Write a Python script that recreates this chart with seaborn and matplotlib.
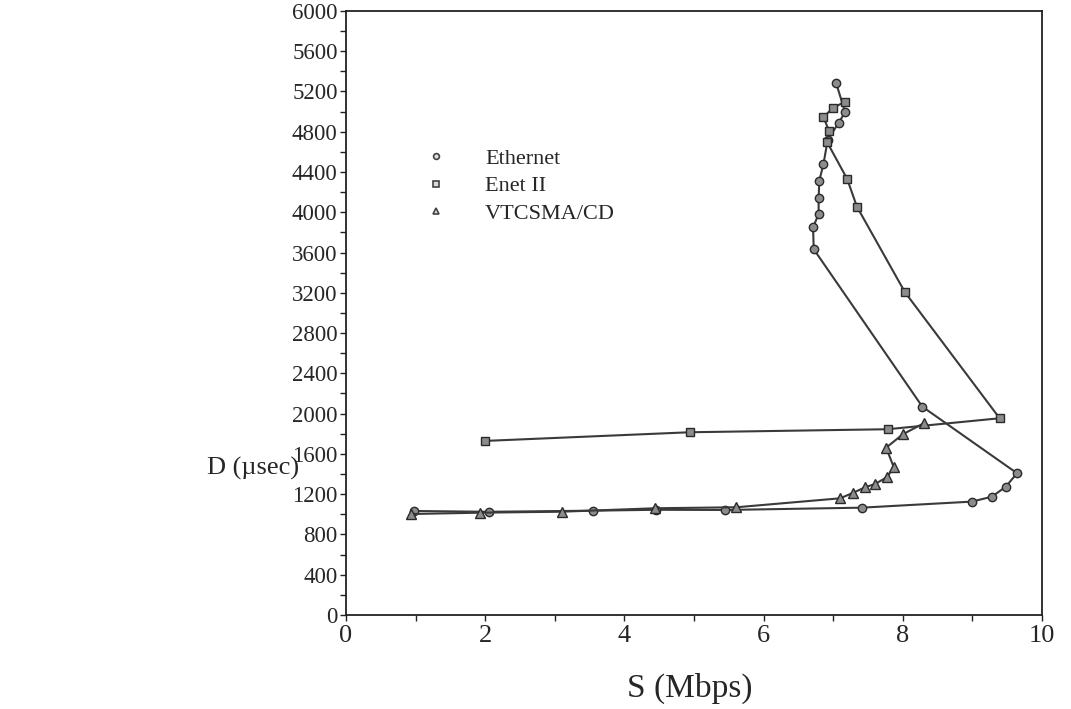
import matplotlib
matplotlib.use("Agg")
import matplotlib.pyplot as plt
import seaborn as sns
import pandas as pd
from matplotlib.lines import Line2D
from matplotlib.ticker import MultipleLocator

# ---- data ----
eth_s = [0.98, 2.05, 3.55, 4.45, 5.45, 7.41, 8.99, 9.28, 9.48, 9.64, 8.28,
         6.72, 6.71, 6.79, 6.79, 6.80, 6.86, 6.92, 7.08, 7.17, 7.04]
eth_d = [1033, 1025, 1036, 1045, 1043, 1066, 1126, 1175, 1275, 1408, 2069,
         3633, 3851, 3981, 4140, 4314, 4480, 4719, 4891, 4994, 5288]

enet_s = [2.00, 4.94, 7.78, 9.39, 8.03, 7.34, 7.20, 6.91, 6.94, 6.86, 6.99, 7.17]
enet_d = [1729, 1815, 1845, 1954, 3206, 4056, 4331, 4699, 4808, 4944, 5034, 5099]

vt_s = [0.94, 1.92, 3.10, 4.44, 5.61, 7.10, 7.29, 7.46, 7.60, 7.77, 7.87,
        7.76, 8.00, 8.30]
vt_d = [1003, 1016, 1026, 1060, 1070, 1159, 1215, 1269, 1301, 1368, 1467,
        1662, 1795, 1904]

series_names = ["Ethernet", "Enet II", "VTCSMA/CD"]
x_ticks = [0, 2, 4, 6, 8, 10]
y_ticks = list(range(0, 6001, 400))

sns.set_theme(style="white")
plt.rcParams["font.family"] = ["Liberation Serif", "DejaVu Serif"]

fig = plt.figure(figsize=(10.71, 7.09), dpi=100)
ax = fig.add_axes([0.323, 0.1326, 0.650, 0.852])

line_col = "#3a3a3a"
face_col = "#8c8c8c"
edge_col = "#2a2a2a"

specs = [
    (eth_s, eth_d, "o", 6.0),
    (enet_s, enet_d, "s", 5.5),
    (vt_s, vt_d, "^", 6.5),
]
for (xs, ys, mk, ms), name in zip(specs, series_names):
    df = pd.DataFrame({"S": xs, "D": ys})
    sns.lineplot(data=df, x="S", y="D", sort=False, estimator=None, ax=ax,
                 color=line_col, linewidth=1.5, marker=mk, markersize=ms,
                 markerfacecolor=face_col, markeredgecolor=edge_col,
                 markeredgewidth=1.0)

ax.set_xlim(0, 10)
ax.set_ylim(0, 6000)
ax.set_xticks(x_ticks)
ax.set_yticks(y_ticks)
ax.xaxis.set_minor_locator(MultipleLocator(1))
ax.yaxis.set_minor_locator(MultipleLocator(200))
ax.tick_params(axis="both", which="both", direction="out", length=4,
               width=1.0, color="#222222", bottom=True, left=True)
ax.tick_params(axis="x", which="major", labelsize=19, pad=3)
ax.tick_params(axis="y", which="major", labelsize=16.5, pad=2)
for sp in ax.spines.values():
    sp.set_color("#222222")
    sp.set_linewidth(1.3)

ax.set_xlabel("S (Mbps)", fontsize=24, va="center")
ax.xaxis.set_label_coords(0.494, -0.121)
ax.set_ylabel("D (\u00b5sec)", fontsize=19, rotation=0, ha="center", va="center")
ax.yaxis.set_label_coords(-0.133, 0.243)

markers = ["o", "s", "^"]
handles = [Line2D([], [], linestyle="none", marker=m, markersize=4.2,
                  markerfacecolor="#dddddd", markeredgecolor="#444444",
                  markeredgewidth=1.2) for m in markers]
ax.legend(handles, series_names, loc="upper left",
          bbox_to_anchor=(0.085, 0.805), frameon=False, fontsize=16,
          handlelength=1.0, handletextpad=1.7, labelspacing=0.3)

fig.savefig("out.png", dpi=100)
